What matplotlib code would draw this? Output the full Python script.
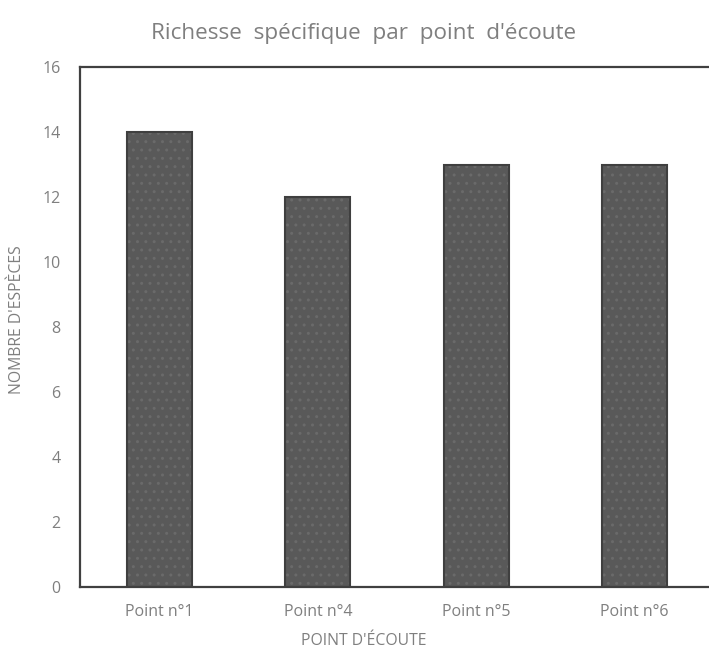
import matplotlib
matplotlib.use("Agg")
import matplotlib.pyplot as plt

categories = ["Point n°1", "Point n°4", "Point n°5", "Point n°6"]
species_counts = [14, 12, 13, 13]
y_ticks = [0, 2, 4, 6, 8, 10, 12, 14, 16]

plt.rcParams['font.family'] = ['Open Sans', 'DejaVu Sans']

W, H = 709, 651
fig = plt.figure(figsize=(W / 100, H / 100), dpi=100)
ax = fig.add_axes([80 / W, (H - 587) / H, 634 / W, 520 / H])

x = list(range(len(categories)))
# dotted fill texture
ax.bar(x, species_counts, width=0.41, color="#595959", edgecolor="#6a6a6a",
       hatch="..", linewidth=0, zorder=2)
ax.bar(x, species_counts, width=0.41, color="none", edgecolor="#3f3f3f",
       linewidth=1.5, zorder=3)

ax.set_xlim(-0.5, len(categories) - 0.5)
ax.set_ylim(0, 16)
ax.set_yticks(y_ticks)
ax.set_xticks(x)
ax.set_xticklabels(categories)
ax.tick_params(axis="both", length=0, labelsize=11.5, labelcolor="#7f7f7f")
ax.tick_params(axis="y", pad=14)
ax.tick_params(axis="x", pad=12)

for s in ax.spines.values():
    s.set_color("#404040")
    s.set_linewidth(1.6)

title = "Richesse spécifique par point d'écoute".replace(" ", "  ")
fig.text(364 / W, 1 - 33 / H, title, fontsize=16.2, color="#7f7f7f",
         ha="center", va="center")
fig.text(364 / W, 1 - 641 / H, "POINT D'ÉCOUTE", fontsize=11.3,
         color="#7f7f7f", ha="center", va="center")
fig.text(17 / W, 1 - 320 / H, "NOMBRE D'ESPÈCES", fontsize=11.3,
         color="#7f7f7f", ha="center", va="center", rotation=90)

fig.savefig("out.png", dpi=100)
